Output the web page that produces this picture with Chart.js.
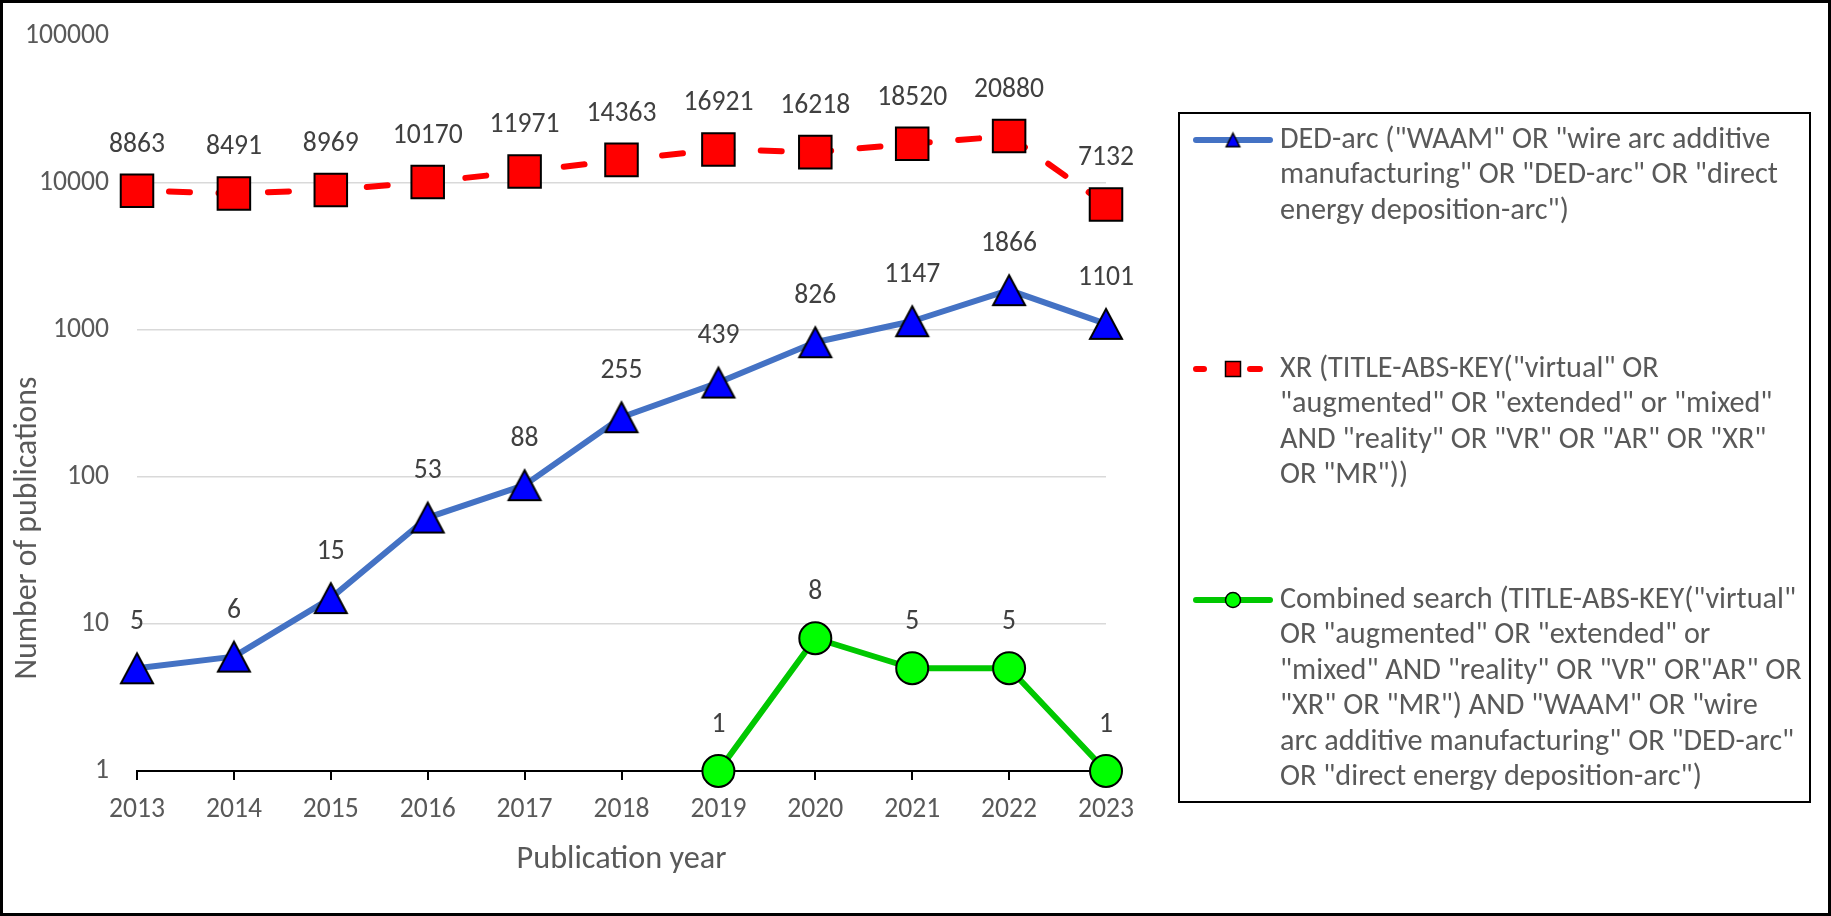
<!DOCTYPE html>
<html><head><meta charset="utf-8">
<script src="https://cdn.jsdelivr.net/npm/chart.js@4.4.1/dist/chart.umd.min.js"></script>
<style>html,body{margin:0;padding:0;background:#fff;overflow:hidden}canvas{display:block}</style>
</head><body>
<canvas id="c" width="1831" height="916"></canvas>
<script>
// ---- data ----
const years = ['2013','2014','2015','2016','2017','2018','2019','2020','2021','2022','2023'];
const dedArc = [5, 6, 15, 53, 88, 255, 439, 826, 1147, 1866, 1101];
const xr = [8863, 8491, 8969, 10170, 11971, 14363, 16921, 16218, 18520, 20880, 7132];
const combined = [null, null, null, null, null, null, 1, 8, 5, 5, 1];
const yTicks = [1, 10, 100, 1000, 10000, 100000];
const dedName = ['DED-arc ("WAAM" OR "wire arc additive', 'manufacturing" OR "DED-arc" OR "direct', 'energy deposition-arc")'];
const xrName = ['XR (TITLE-ABS-KEY("virtual" OR', '"augmented" OR "extended" or "mixed"', 'AND "reality" OR "VR" OR "AR" OR "XR"', 'OR "MR"))'];
const combinedName = ['Combined search (TITLE-ABS-KEY("virtual"', 'OR "augmented" OR "extended" or', '"mixed" AND "reality" OR "VR" OR"AR" OR', '"XR" OR "MR") AND "WAAM" OR "wire', 'arc additive manufacturing" OR "DED-arc"', 'OR "direct energy deposition-arc")'];
const xTitle = 'Publication year';
const yTitle = 'Number of publications';

// ---- styles ----
const FAM = 'Carlito, Lato, sans-serif';
const mctx = document.createElement('canvas').getContext('2d');
function fit(text, target) { mctx.font = '100px ' + FAM; return 100 * target / mctx.measureText(text).width; }
const tickSize = fit('2013', 56);
const legendSize = fit(dedName[1], 498);
const xTitleSize = fit(xTitle, 210);
const yTitleSize = fit(yTitle, 303);
const GRAY = '#595959', DARK = '#404040';

function triangleImg(w, h, lw, fill) {
  const m = 4;
  const c = document.createElement('canvas');
  c.width = w + 2 * m; c.height = h + 2 * m;
  const g = c.getContext('2d');
  g.beginPath();
  g.moveTo(c.width / 2, m + lw / 2);
  g.lineTo(m + w - lw / 2, m + h - lw / 2);
  g.lineTo(m + lw / 2, m + h - lw / 2);
  g.closePath();
  g.fillStyle = fill; g.fill();
  g.lineWidth = lw; g.strokeStyle = '#000'; g.lineJoin = 'miter'; g.stroke();
  return c;
}
const triBig = triangleImg(34, 32, 2, '#0000FF');
const triSmall = triangleImg(15, 15, 1.5, '#0000FF');

const LABEL_OFFSET = 46;
const dataLabels = {
  id: 'dataLabels',
  afterDatasetsDraw(chart) {
    const ctx = chart.ctx;
    ctx.save();
    ctx.font = tickSize + 'px ' + FAM;
    ctx.fillStyle = DARK;
    ctx.textAlign = 'center';
    ctx.textBaseline = 'middle';
    chart.data.datasets.forEach((ds, i) => {
      const meta = chart.getDatasetMeta(i);
      meta.data.forEach((el, j) => {
        const v = ds.data[j];
        if (v === null || v === undefined) return;
        ctx.fillText(String(v), el.x, el.y - LABEL_OFFSET);
      });
    });
    ctx.restore();
  }
};

const decor = {
  id: 'decor',
  afterDraw(chart) {
    const ctx = chart.ctx;
    ctx.save();
    ctx.font = yTitleSize + 'px ' + FAM;
    ctx.fillStyle = GRAY;
    ctx.textAlign = 'center';
    ctx.textBaseline = 'middle';
    ctx.translate(28, 528);
    ctx.rotate(-Math.PI / 2);
    ctx.fillText(yTitle, 0, 0);
    ctx.restore();

    ctx.save();
    ctx.lineWidth = 2; ctx.strokeStyle = '#000';
    ctx.strokeRect(1179, 113, 631, 689);
    const entries = [
      {lines: dedName, y: 140, ds: 0},
      {lines: xrName, y: 369, ds: 1},
      {lines: combinedName, y: 600, ds: 2}
    ];
    const lh = 35.5, tx = 1280, sx0 = 1196, sx1 = 1270, mx = 1233;
    entries.forEach(e => {
      const ds = chart.data.datasets[e.ds];
      ctx.save();
      ctx.strokeStyle = ds.borderColor; ctx.lineWidth = 6; ctx.lineCap = 'round';
      ctx.beginPath();
      if (e.ds === 1) {
        ctx.moveTo(1196, e.y); ctx.lineTo(1204, e.y);
        ctx.moveTo(1250, e.y); ctx.lineTo(1260, e.y);
      } else {
        ctx.moveTo(sx0, e.y); ctx.lineTo(sx1, e.y);
      }
      ctx.stroke();
      ctx.restore();
      ctx.save();
      ctx.lineWidth = 1.5; ctx.strokeStyle = '#000';
      if (e.ds === 0) {
        ctx.drawImage(triSmall, mx - triSmall.width / 2, e.y - triSmall.height / 2);
      } else if (e.ds === 1) {
        ctx.fillStyle = '#FF0000';
        ctx.fillRect(mx - 7.5, e.y - 7.5, 15, 15);
        ctx.strokeRect(mx - 7.5, e.y - 7.5, 15, 15);
      } else {
        ctx.fillStyle = '#00FF00';
        ctx.beginPath(); ctx.arc(mx, e.y, 7.5, 0, Math.PI * 2); ctx.fill(); ctx.stroke();
      }
      ctx.restore();
      ctx.font = legendSize + 'px ' + FAM;
      ctx.fillStyle = GRAY;
      ctx.textAlign = 'left';
      ctx.textBaseline = 'middle';
      e.lines.forEach((t, k) => ctx.fillText(t, tx, e.y + k * lh));
    });
    ctx.restore();

    ctx.save();
    ctx.lineWidth = 3; ctx.strokeStyle = '#000';
    ctx.strokeRect(1.5, 1.5, 1828, 913);
    ctx.restore();
  }
};

const xTitleLH = xTitleSize * 1.2;

new Chart(document.getElementById('c'), {
  type: 'line',
  data: {
    labels: years,
    datasets: [
      {
        label: dedName.join(' '),
        data: dedArc,
        borderColor: '#4472C4', borderWidth: 6, tension: 0,
        borderCapStyle: 'round', borderJoinStyle: 'round',
        pointStyle: triBig, pointRadius: 17, pointHoverRadius: 17,
        clip: false
      },
      {
        label: xrName.join(' '),
        data: xr,
        borderColor: '#FF0000', borderWidth: 6, tension: 0,
        borderDash: [21, 28.5], borderDashOffset: 17.5,
        borderCapStyle: 'round', borderJoinStyle: 'round',
        pointStyle: 'rect', pointRadius: 23, pointHoverRadius: 23,
        pointBackgroundColor: '#FF0000', pointBorderColor: '#000', pointBorderWidth: 2,
        clip: false
      },
      {
        label: combinedName.join(' '),
        data: combined,
        borderColor: '#00C800', borderWidth: 6, tension: 0,
        borderCapStyle: 'round', borderJoinStyle: 'round',
        pointStyle: 'circle', pointRadius: 16, pointHoverRadius: 16,
        pointBackgroundColor: '#00FF00', pointBorderColor: '#000', pointBorderWidth: 2,
        clip: false
      }
    ]
  },
  options: {
    responsive: false,
    animation: false,
    devicePixelRatio: 1,
    layout: { padding: { top: 36, left: 0, right: 725, bottom: 0 } },
    plugins: { legend: { display: false }, tooltip: { enabled: false } },
    scales: {
      x: {
        type: 'category',
        offset: false,
        afterFit(s) { s.height = 145; s.paddingLeft = 0; s.paddingRight = 0; },
        grid: { display: true, drawOnChartArea: false, drawTicks: true, tickLength: 9, color: '#000', lineWidth: 2 },
        border: { display: true, color: '#000', width: 2 },
        ticks: { color: GRAY, font: { family: FAM, size: tickSize }, padding: 14, maxRotation: 0, autoSkip: false },
        title: {
          display: true, text: xTitle, color: GRAY,
          font: { family: FAM, size: xTitleSize },
          padding: { top: 0, bottom: 916 - 860 - xTitleLH / 2 }
        }
      },
      y: {
        type: 'logarithmic',
        min: 1, max: 100000,
        afterFit(s) { s.width = 137; s.paddingTop = 0; s.paddingBottom = 0; },
        afterBuildTicks(s) { s.ticks = yTicks.map(v => ({ value: v })); },
        grid: {
          drawTicks: false,
          lineWidth: 1.5,
          color: c => (c.tick && c.tick.value === 100000) ? 'rgba(0,0,0,0)' : '#D9D9D9'
        },
        border: { display: false },
        ticks: {
          color: GRAY, font: { family: FAM, size: tickSize }, padding: 28,
          callback: v => String(v)
        },
        title: { display: false }
      }
    }
  },
  plugins: [dataLabels, decor]
});
</script>
</body></html>
